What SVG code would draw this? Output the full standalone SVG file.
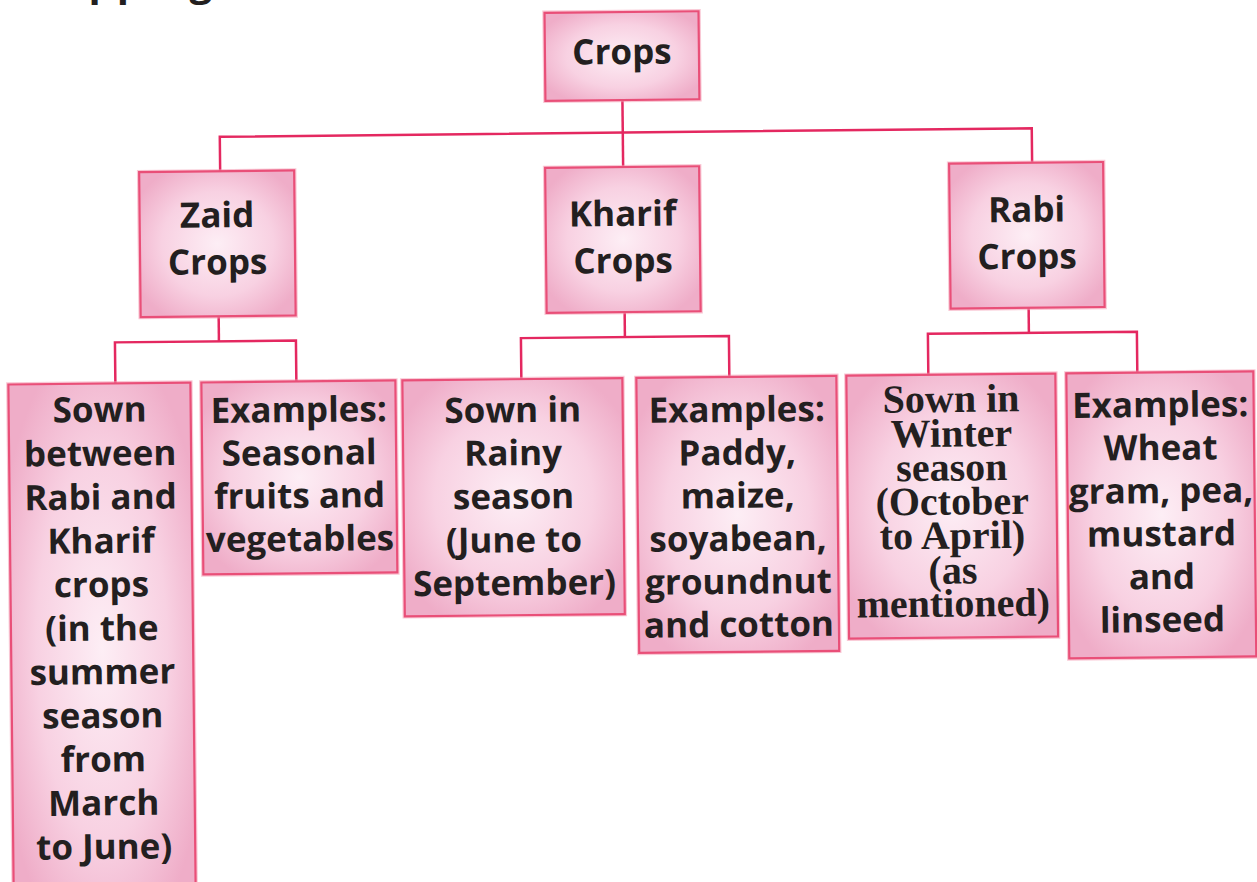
<svg xmlns="http://www.w3.org/2000/svg" width="1257" height="882" viewBox="0 0 1257 882">
  <defs>
    <radialGradient id="boxFill" cx="0.5" cy="0.5" r="0.6">
      <stop offset="0" stop-color="#fdeef5"/>
      <stop offset="0.6" stop-color="#f8d1e2"/>
      <stop offset="1" stop-color="#efadc8"/>
    </radialGradient>
    <style>
      .box rect.halo { fill: none; stroke: #f49ab3; stroke-width: 4.5; stroke-opacity: 0.55; }
      .box rect.body { fill: url(#boxFill); stroke: #e94f78; stroke-width: 2.2; }
      .box text { font-family: "Open Sans", "Noto Sans", sans-serif; font-weight: 700; font-size: 35px; fill: #231f20; text-anchor: middle; }
      .box text.serif { font-family: "Liberation Serif", "DejaVu Serif", serif; font-size: 40px; }
      #connectors path { fill: none; stroke: #e42860; stroke-width: 2.5; }
      .heading { font-family: "Open Sans", "Noto Sans", sans-serif; font-weight: 700; font-size: 40px; fill: #231f20; letter-spacing: 3px; }
    </style>
  </defs>

  <rect width="1257" height="882" fill="#ffffff"/>

  <!-- page heading, cut by the top edge -->
  <text class="heading" x="11" y="-4">Cropping</text>

  <g transform="rotate(-0.6 628 441)">
    <!-- tree connectors -->
    <g id="connectors">
      <path d="M626 100 V167"/>
      <path d="M223 167 V132.5 H1035 V167"/>
      <path d="M220 312 V337"/>
      <path d="M116 378 V337 H297 V378"/>
      <path d="M626 312 V337"/>
      <path d="M522 378 V337 H730 V378"/>
      <path d="M1030 312 V337"/>
      <path d="M929 378 V337 H1138 V378"/>
    </g>

    <!-- root -->
    <g id="crops" class="box">
      <rect class="halo" x="549" y="12" width="154" height="88"/>
      <rect class="body" x="549" y="12" width="154" height="88"/>
      <text x="626" y="64">Crops</text>
    </g>

    <!-- seasons -->
    <g id="zaid" class="box">
      <rect class="halo" x="142" y="167" width="155" height="145"/>
      <rect class="body" x="142" y="167" width="155" height="145"/>
      <text x="219.5" y="223">Zaid</text>
      <text x="219.5" y="270">Crops</text>
    </g>
    <g id="kharif" class="box">
      <rect class="halo" x="548" y="167" width="154" height="145"/>
      <rect class="body" x="548" y="167" width="154" height="145"/>
      <text x="625" y="226">Kharif</text>
      <text x="625" y="273">Crops</text>
    </g>
    <g id="rabi" class="box">
      <rect class="halo" x="952" y="167" width="154" height="145"/>
      <rect class="body" x="952" y="167" width="154" height="145"/>
      <text x="1029" y="226">Rabi</text>
      <text x="1029" y="273">Crops</text>
    </g>

    <!-- Zaid details -->
    <g id="zaid-sown" class="box">
      <rect class="halo" x="9" y="378" width="182" height="530"/>
      <rect class="body" x="9" y="378" width="182" height="530"/>
      <text x="100" y="416.5">Sown</text>
      <text x="100" y="460.2">between</text>
      <text x="100" y="503.9">Rabi and</text>
      <text x="100" y="547.6">Kharif</text>
      <text x="100" y="591.3">crops</text>
      <text x="100" y="635">(in the</text>
      <text x="100" y="678.7">summer</text>
      <text x="100" y="722.4">season</text>
      <text x="100" y="766.1">from</text>
      <text x="100" y="809.8">March</text>
      <text x="100" y="853.5">to June)</text>
    </g>
    <g id="zaid-examples" class="box">
      <rect class="halo" x="202" y="378" width="194" height="192"/>
      <rect class="body" x="202" y="378" width="194" height="192"/>
      <text x="299" y="418.6">Examples:</text>
      <text x="299" y="461.6">Seasonal</text>
      <text x="299" y="504.6">fruits and</text>
      <text x="299" y="547.6">vegetables</text>
    </g>

    <!-- Kharif details -->
    <g id="kharif-sown" class="box">
      <rect class="halo" x="403" y="378" width="220" height="236"/>
      <rect class="body" x="403" y="378" width="220" height="236"/>
      <text x="513" y="421">Sown in</text>
      <text x="513" y="464">Rainy</text>
      <text x="513" y="507.5">season</text>
      <text x="513" y="551">(June to</text>
      <text x="513" y="594">September)</text>
    </g>
    <g id="kharif-examples" class="box">
      <rect class="halo" x="637" y="378" width="200" height="275"/>
      <rect class="body" x="637" y="378" width="200" height="275"/>
      <text x="737" y="423">Examples:</text>
      <text x="737" y="466">Paddy,</text>
      <text x="737" y="509">maize,</text>
      <text x="737" y="552">soyabean,</text>
      <text x="737" y="595">groundnut</text>
      <text x="737" y="638">and cotton</text>
    </g>

    <!-- Rabi details -->
    <g id="rabi-sown" class="box">
      <rect class="halo" x="847" y="378" width="209" height="263"/>
      <rect class="body" x="847" y="378" width="209" height="263"/>
      <text class="serif" x="951.5" y="415.4">Sown in</text>
      <text class="serif" x="951.5" y="450">Winter</text>
      <text class="serif" x="951.5" y="484">season</text>
      <text class="serif" x="951.5" y="518">(October</text>
      <text class="serif" x="951.5" y="552">to April)</text>
      <text class="serif" x="951.5" y="587">(as</text>
      <text class="serif" x="951.5" y="620">mentioned)</text>
    </g>
    <g id="rabi-examples" class="box">
      <rect class="halo" x="1067" y="378" width="187" height="285"/>
      <rect class="body" x="1067" y="378" width="187" height="285"/>
      <text x="1160.5" y="422.6">Examples:</text>
      <text x="1160.5" y="465.6">Wheat</text>
      <text x="1160.5" y="508.6">gram, pea,</text>
      <text x="1160.5" y="551.6">mustard</text>
      <text x="1160.5" y="594.6">and</text>
      <text x="1160.5" y="637.6">linseed</text>
    </g>
  </g>
</svg>
